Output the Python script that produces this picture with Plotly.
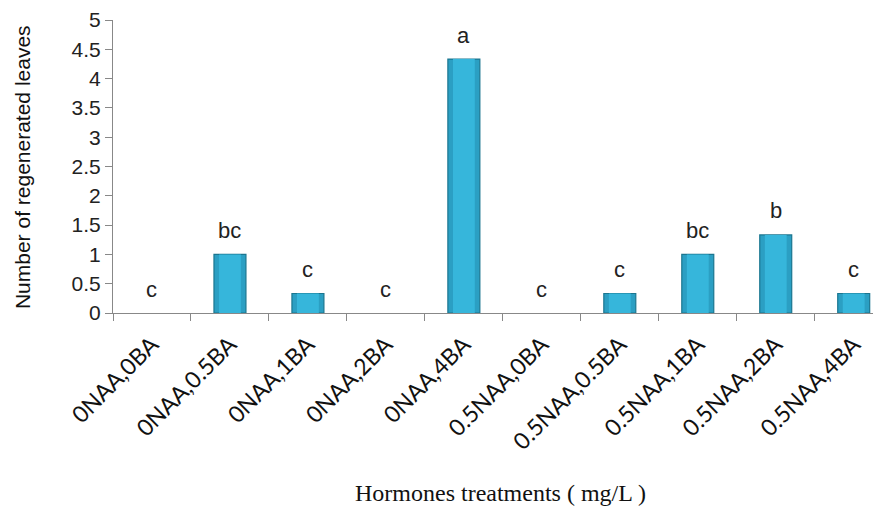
import plotly.graph_objects as go

categories = ["0NAA,0BA", "0NAA,0.5BA", "0NAA,1BA", "0NAA,2BA", "0NAA,4BA",
              "0.5NAA,0BA", "0.5NAA,0.5BA", "0.5NAA,1BA", "0.5NAA,2BA", "0.5NAA,4BA"]
values = [0, 1, 0.333, 0, 4.333, 0, 0.333, 1, 1.333, 0.333]
letters = ["c", "bc", "c", "c", "a", "c", "c", "bc", "b", "c"]
y_ticks = [0, 0.5, 1, 1.5, 2, 2.5, 3, 3.5, 4, 4.5, 5]

edge_widths = [1.2 if v > 0 else 0 for v in values]

fig = go.Figure()
fig.add_trace(go.Bar(
    x=categories, y=values, width=0.41,
    marker=dict(color="#2b9fc3", line=dict(color="#1b7690", width=edge_widths)),
    hoverinfo="skip",
))
fig.add_trace(go.Bar(
    x=categories, y=values, width=0.28,
    marker=dict(color="#36b6db", line=dict(width=0)),
    hoverinfo="skip",
))

for c, v, t in zip(categories, values, letters):
    fig.add_annotation(x=c, y=v, text=t, showarrow=False, yshift=24,
                       yanchor="middle",
                       font=dict(family="Liberation Sans", size=22, color="#222222"))

fig.add_annotation(xref="paper", yref="paper", x=0.504, y=-0.614,
                   text="Hormones treatments ( mg/L )", showarrow=False,
                   xanchor="center", yanchor="middle",
                   font=dict(family="Liberation Serif", size=24, color="#111111"))
fig.add_annotation(xref="paper", yref="paper", x=-0.1185, y=0.498,
                   text="Number of regenerated leaves", showarrow=False,
                   textangle=-90, xanchor="center", yanchor="middle",
                   font=dict(family="Liberation Sans", size=21, color="#111111"))

fig.update_layout(
    width=873, height=502,
    margin=dict(l=105, r=0, t=12, b=197),
    paper_bgcolor="white", plot_bgcolor="white",
    barmode="overlay", showlegend=False,
    xaxis=dict(
        type="category", range=[-0.5, 9.35],
        showline=True, linecolor="#888888", linewidth=1,
        ticks="outside", tickson="boundaries", ticklen=7, tickcolor="#888888",
        tickangle=-45, showgrid=False, zeroline=False, ticklabelstandoff=8,
        tickfont=dict(family="Lato", size=23, color="#111111"),
    ),
    yaxis=dict(
        range=[0, 5], tickvals=y_ticks, ticktext=[f"{t:g}" for t in y_ticks],
        showline=True, linecolor="#888888", linewidth=1,
        ticks="outside", ticklen=7, tickcolor="#888888",
        showgrid=False, zeroline=False,
        tickfont=dict(family="Liberation Sans", size=21, color="#222222"),
    ),
)

fig.write_html("out.html")
